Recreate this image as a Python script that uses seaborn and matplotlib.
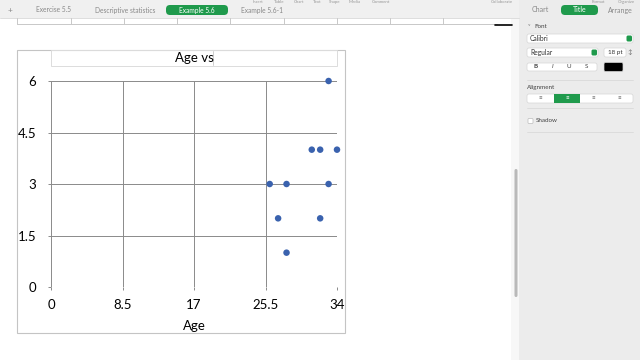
import matplotlib
matplotlib.use("Agg")
import matplotlib.pyplot as plt
from matplotlib.patches import Rectangle, FancyBboxPatch
import seaborn as sns
import pandas as pd

# ---- data ----
age = [26, 27, 28, 28, 31, 32, 32, 33, 33, 34]
value = [3, 2, 3, 1, 4, 4, 2, 6, 3, 4]
x_ticks = [0, 8.5, 17, 25.5, 34]
x_tick_labels = ["0", "8.5", "17", "25.5", "34"]
y_ticks = [0, 1.5, 3, 4.5, 6]
y_tick_labels = ["0", "1.5", "3", "4.5", "6"]
chart_title = "Age vs"
x_label = "Age"
sheet_tabs = ["Exercise 5.5", "Descriptive statistics", "Example 5.6", "Example 5.6-1"]
panel_tabs = ["Chart", "Title", "Arrange"]
toolbar_items = ["Insert", "Table", "Chart", "Text", "Shape", "Media", "Comment",
                 "Collaborate", "Format", "Organize"]

sns.set_theme(style="white")
plt.rcParams['font.family'] = ['Lato', 'DejaVu Sans']

W, H = 640, 360
fig = plt.figure(figsize=(6.4, 3.6), dpi=100)
fig.patch.set_facecolor("white")

def fx(x):
    return x / W

def fy(y):
    return 1 - y / H

def rect(x0, y0, x1, y1, **kw):
    r = Rectangle((fx(x0), fy(y1)), fx(x1) - fx(x0), fy(y0) - fy(y1),
                  transform=fig.transFigure, **kw)
    fig.patches.append(r)
    return r

def rrect(x0, y0, x1, y1, rad=3, **kw):
    r = FancyBboxPatch((fx(x0), fy(y1)), fx(x1) - fx(x0), fy(y0) - fy(y1),
                       boxstyle=f"round,pad=0,rounding_size={rad / W}",
                       transform=fig.transFigure, mutation_aspect=W / H, **kw)
    fig.patches.append(r)
    return r

def line(x0, y0, x1, y1, **kw):
    fig.add_artist(plt.Line2D([fx(x0), fx(x1)], [fy(y0), fy(y1)],
                              transform=fig.transFigure, **kw))

def txt(x, y, s, **kw):
    fig.text(fx(x), fy(y), s, **kw)

GREEN = "#1f9a4c"
UI_GRAY = "#ececec"

# ---- top tool/tab bar ----
rect(0, 0, 640, 18, facecolor="#f0f0f0", edgecolor="none")
line(0, 18, 519, 18, color="#d8d8d8", lw=0.6)
for s, x in zip(toolbar_items, [258, 279, 299, 317, 335, 355, 381, 502, 598, 626]):
    txt(x, 2.2, s, fontsize=3.2, color="#999999", ha="center", va="center")
txt(10, 10, "+", fontsize=6, color="#888888", ha="center", va="center")
for s, x in zip(sheet_tabs, [53, 125, 197, 262]):
    if s == "Example 5.6":
        rrect(166, 5, 228, 15, rad=4, facecolor=GREEN, edgecolor="none")
        txt(x, 10, s, fontsize=4.8, color="white", ha="center", va="center")
    else:
        txt(x, 10, s, fontsize=4.8, color="#888888", ha="center", va="center")

# ---- spreadsheet row remnants ----
line(17, 24, 497, 24, color="#c8c8c8", lw=0.7)
for x in [17, 71, 124, 177, 230, 284, 337, 390, 443]:
    line(x, 18, x, 24, color="#c8c8c8", lw=0.7)
line(495, 24.5, 512, 24.5, color="black", lw=1.2)

# ---- right sidebar ----
rect(511, 18, 519, 360, facecolor="#f7f7f7", edgecolor="none")
rrect(514.5, 169, 517.5, 297, rad=1.5, facecolor="#b9b9b9", edgecolor="none")
rect(519, 18, 640, 360, facecolor=UI_GRAY, edgecolor="none")
rect(519, 0, 640, 18, facecolor=UI_GRAY, edgecolor="none")
for s, x in zip(panel_tabs, [540, 580, 620]):
    if s == "Title":
        rrect(561, 5, 598, 15, rad=4, facecolor=GREEN, edgecolor="none")
        txt(x, 10, s, fontsize=5, color="white", ha="center", va="center")
    else:
        txt(x, 10, s, fontsize=5, color="#888888", ha="center", va="center")

txt(528, 27, "\u02c5", fontsize=4, color="#777777", ha="left", va="center")
txt(534, 27, "Font", fontsize=4.5, color="#444444", ha="left", va="center")
rrect(527, 34, 633, 43, rad=2, facecolor="white", edgecolor="#d6d6d6", lw=0.5)
txt(530, 38.5, "Calibri", fontsize=4.8, color="#333333", ha="left", va="center")
rrect(626.5, 35.5, 632, 41.5, rad=1.5, facecolor=GREEN, edgecolor="none")
rrect(527, 48, 598, 57, rad=2, facecolor="white", edgecolor="#d6d6d6", lw=0.5)
txt(530, 52.5, "Regular", fontsize=4.8, color="#333333", ha="left", va="center")
rrect(591.5, 49.5, 597, 55.5, rad=1.5, facecolor=GREEN, edgecolor="none")
rrect(604, 48, 626, 57, rad=2, facecolor="white", edgecolor="#d6d6d6", lw=0.5)
txt(623, 52.5, "18 pt", fontsize=4.5, color="#333333", ha="right", va="center")
txt(630, 52.5, "\u2195", fontsize=4.5, color="#666666", ha="center", va="center")
rrect(527, 63, 597, 71, rad=2, facecolor="white", edgecolor="#d6d6d6", lw=0.5)
for s, x, w, st in [("B", 536, "bold", "normal"), ("I", 553, "normal", "italic"),
                    ("U", 569, "normal", "normal"), ("S", 586, "normal", "normal")]:
    txt(x, 67, s, fontsize=4.5, color="#444444", ha="center", va="center",
        fontweight=w, fontstyle=st)
rrect(604, 62.5, 623, 71.5, rad=1.5, facecolor="black", edgecolor="#d6d6d6", lw=0.5)
fig.add_artist(plt.Circle((fx(628), fy(67)), 3.3 / W, transform=fig.transFigure,
                          facecolor="white", edgecolor="#e0a050", lw=1.0))
line(527, 80, 633, 80, color="#d6d6d6", lw=0.5)
txt(527, 87, "Alignment", fontsize=4.5, color="#444444", ha="left", va="center")
rrect(527, 94, 633, 103, rad=2, facecolor="white", edgecolor="#d6d6d6", lw=0.5)
rect(554, 94, 580, 103, facecolor=GREEN, edgecolor="none")
for x in [540, 567, 593, 619]:
    txt(x, 98.5, "\u2261", fontsize=4.5, color="white" if x == 567 else "#666666",
        ha="center", va="center")
line(527, 108, 633, 108, color="#d6d6d6", lw=0.5)
rrect(528, 118.5, 533, 123.5, rad=1, facecolor="white", edgecolor="#bbbbbb", lw=0.5)
txt(536, 121, "Shadow", fontsize=4.5, color="#444444", ha="left", va="center")
line(527, 132, 633, 132, color="#d6d6d6", lw=0.5)

# ---- chart frame and title box ----
rect(17, 50, 345.5, 333, facecolor="none", edgecolor="#c4c4c4", lw=0.8)
rect(51, 50, 337, 65.5, facecolor="none", edgecolor="#dcdcdc", lw=0.7)
line(213, 51, 213, 65, color="#c8c8c8", lw=0.6)
txt(194, 57.5, chart_title, fontsize=9.5, color="black", ha="center", va="center")

# ---- plot area ----
ax = fig.add_axes([fx(51), fy(287), fx(337) - fx(51), fy(81) - fy(287)])
ax.set_facecolor("white")
df = pd.DataFrame({"Age": age, "Value": value})
sns.scatterplot(data=df, x="Age", y="Value", ax=ax, color="#3a62ae", s=22,
                edgecolor="none", zorder=5, clip_on=False)
ax.set_xlim(0, 34)
ax.set_ylim(0, 6)
ax.set_xticks(x_ticks)
ax.set_xticklabels(x_tick_labels)
ax.set_yticks(y_ticks)
ax.set_yticklabels(y_tick_labels)
ax.grid(True, color="#8a8a8a", lw=0.7)
for sp in ax.spines.values():
    sp.set_visible(False)
ax.tick_params(axis="both", length=2.5, width=0.7, color="#8a8a8a", labelsize=9.5,
               labelcolor="black", direction="out")
ax.tick_params(axis="x", bottom=True, pad=6)
ax.tick_params(axis="y", left=True, pad=8)
ax.set_xlabel("")
ax.set_ylabel("")
txt(194, 326, x_label, fontsize=9.5, color="black", ha="center", va="center")

fig.savefig("out.png", dpi=100, facecolor="white")
